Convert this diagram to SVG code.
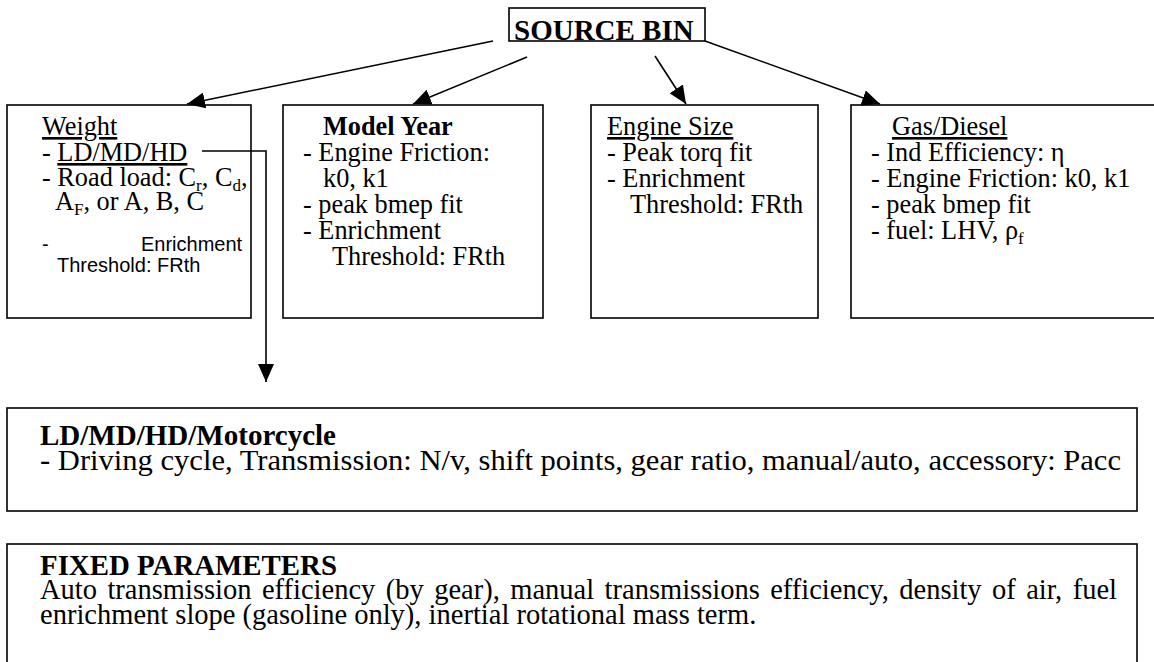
<svg xmlns="http://www.w3.org/2000/svg" width="1154" height="662" viewBox="0 0 1154 662">
<defs>
<marker id="ah" markerWidth="18" markerHeight="16" refX="18" refY="8" orient="auto" markerUnits="userSpaceOnUse">
<path d="M0,0 L18,8 L0,16 Z" fill="#000"/>
</marker>
<style>
.box{fill:#fff;stroke:#000;stroke-width:1.6}
.t{font-family:"Liberation Serif","Times New Roman",serif;font-size:26.3px;fill:#000}
.L{font-size:28.5px}
.b{font-weight:bold}
.s{font-family:"Liberation Sans",Arial,sans-serif;font-size:20px;fill:#000}
.u{text-decoration:underline}
.sub{font-size:17px}
.c{fill:none;stroke:#000;stroke-width:1.6}
</style>
</defs>
<rect width="1154" height="662" fill="#fff"/>
<g id="source-bin">
<rect class="box" x="509" y="8" width="196" height="33"/>
<text class="t b" x="514" y="40" style="font-size:29px">SOURCE BIN</text>
</g>
<g id="weight">
<rect class="box" x="7" y="105" width="244" height="213"/>
<text class="t" x="42" y="135"><tspan class="u">Weight</tspan></text>
<text class="t" x="42" y="161">- <tspan class="u">LD/MD/HD</tspan></text>
<text class="t" x="42" y="186">- Road load: C<tspan class="sub" dy="5">r</tspan><tspan dy="-5">, C</tspan><tspan class="sub" dy="5">d</tspan><tspan dy="-5">,</tspan></text>
<text class="t" x="55" y="210">A<tspan class="sub" dy="5">F</tspan><tspan dy="-5">, or A, B, C</tspan></text>
<text class="s" x="42" y="251">-</text>
<text class="s" x="141" y="251">Enrichment</text>
<text class="s" x="57" y="272">Threshold: FRth</text>
</g>
<g id="model-year">
<rect class="box" x="283" y="105" width="260" height="213"/>
<text class="t b" x="323" y="135">Model Year</text>
<text class="t" x="303" y="161">- Engine Friction:</text>
<text class="t" x="323" y="187">k0, k1</text>
<text class="t" x="303" y="213">- peak bmep fit</text>
<text class="t" x="303" y="239">- Enrichment</text>
<text class="t" x="332" y="265">Threshold: FRth</text>
</g>
<g id="engine-size">
<rect class="box" x="591" y="105" width="227" height="213"/>
<text class="t" x="607" y="135"><tspan class="u">Engine Size</tspan></text>
<text class="t" x="607" y="161">- Peak torq fit</text>
<text class="t" x="607" y="187">- Enrichment</text>
<text class="t" x="630" y="213">Threshold: FRth</text>
</g>
<g id="gas-diesel">
<rect class="box" x="851" y="105" width="320" height="213"/>
<text class="t" x="892" y="135"><tspan class="u">Gas/Diesel</tspan></text>
<text class="t" x="871" y="161">- Ind Efficiency: η</text>
<text class="t" x="871" y="187">- Engine Friction: k0, k1</text>
<text class="t" x="871" y="213">- peak bmep fit</text>
<text class="t" x="871" y="239">- fuel: LHV, ρ<tspan class="sub" dy="5">f</tspan></text>
</g>
<g id="vehicle-class">
<rect class="box" x="7" y="408" width="1130" height="103"/>
<text class="t L b" x="40" y="445" textLength="296" lengthAdjust="spacingAndGlyphs">LD/MD/HD/Motorcycle</text>
<text class="t L" x="40" y="470" textLength="1081" lengthAdjust="spacingAndGlyphs">- Driving cycle, Transmission: N/v, shift points, gear ratio, manual/auto, accessory: Pacc</text>
</g>
<g id="fixed-parameters">
<rect class="box" x="7" y="544" width="1130" height="130"/>
<text class="t L b" x="40" y="575" textLength="297" lengthAdjust="spacingAndGlyphs">FIXED PARAMETERS</text>
<text class="t L" x="40" y="599" word-spacing="3.3">Auto transmission efficiency (by gear), manual transmissions efficiency, density of air, fuel</text>
<text class="t L" x="40" y="624">enrichment slope (gasoline only), inertial rotational mass term.</text>
</g>
<g id="connectors">
<line class="c" x1="493" y1="41" x2="187" y2="104" marker-end="url(#ah)"/>
<line class="c" x1="527" y1="57" x2="413" y2="104" marker-end="url(#ah)"/>
<line class="c" x1="655" y1="56" x2="686" y2="104" marker-end="url(#ah)"/>
<line class="c" x1="705" y1="41" x2="880" y2="104" marker-end="url(#ah)"/>
<polyline class="c" points="202,151 266,151 266,382" marker-end="url(#ah)"/>
</g>
</svg>
